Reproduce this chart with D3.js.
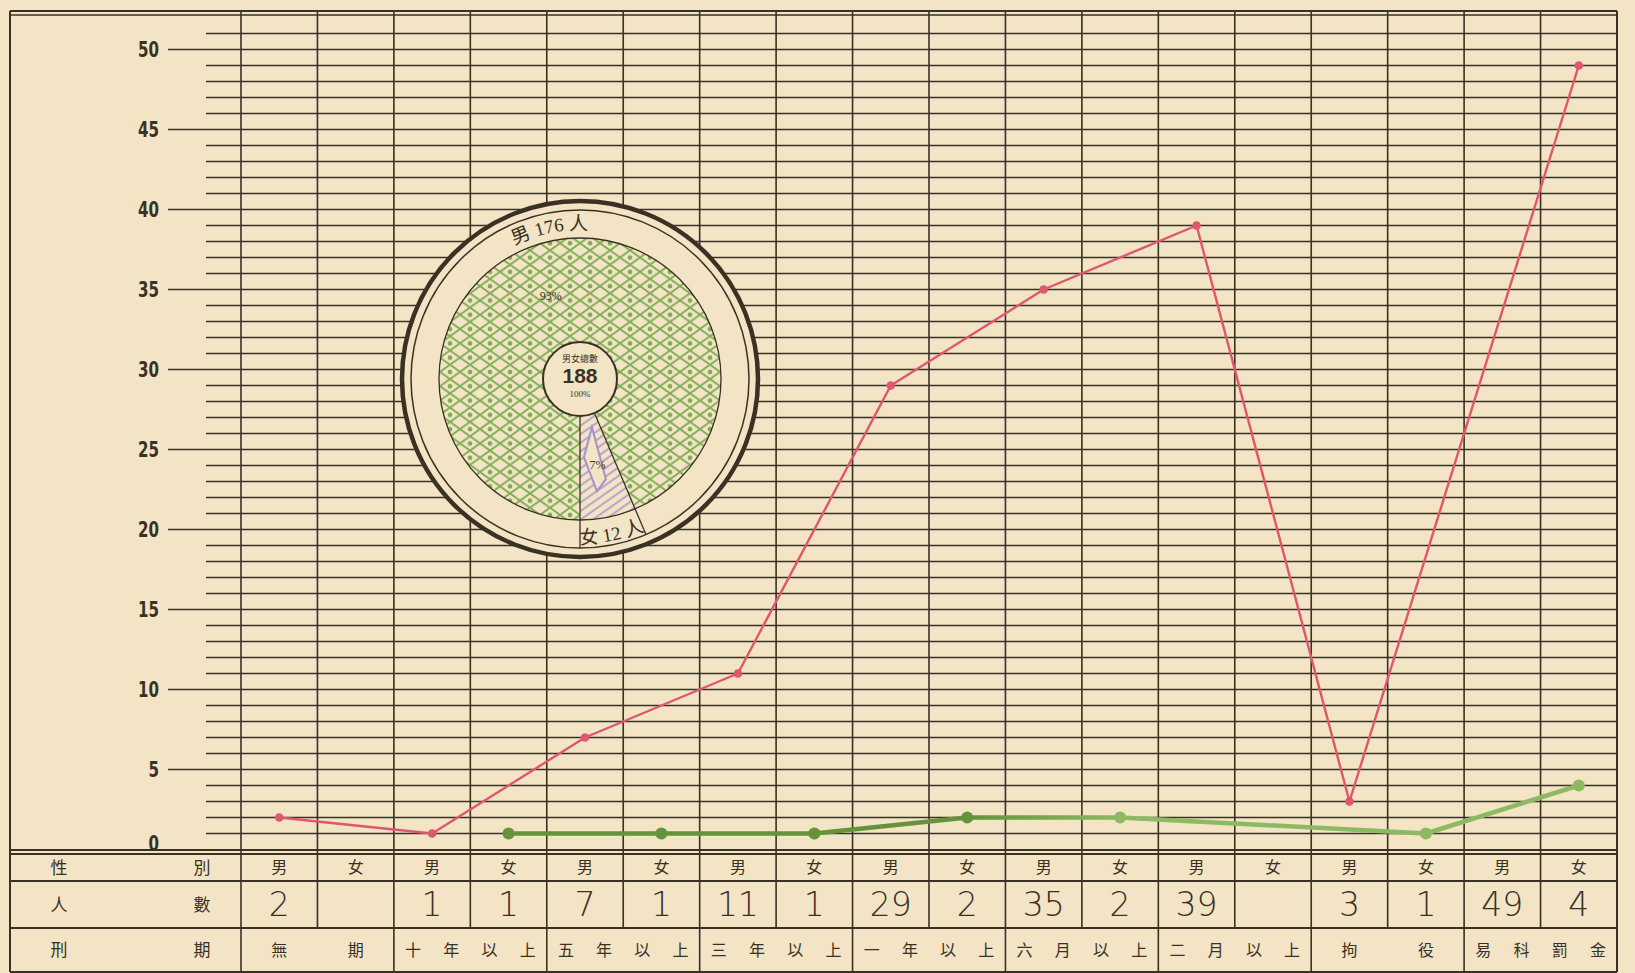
<!DOCTYPE html>
<html>
<head>
<meta charset="utf-8">
<script src="https://cdn.jsdelivr.net/npm/d3@7"></script>
<style>
  html, body { margin: 0; padding: 0; background: #f2e4c4; }
  svg { display: block; }
</style>
</head>
<body>
<svg id="chart" width="1635" height="973"></svg>
<script>
// ---- data -------------------------------------------------------------
const sentenceTerms = ["無期", "十年以上", "五年以上", "三年以上", "一年以上", "六月以上", "二月以上", "拘役", "易科罰金"];
const sexes = ["男", "女"];
const maleCounts = [2, 1, 7, 11, 29, 35, 39, 3, 49];
const femaleCounts = [null, 1, 1, 1, 2, 2, null, 1, 4];
// column (sex half of each term) in which each male point is plotted
const maleMarkSide = ["男", "男", "男", "男", "男", "男", "男", "男", "女"];
const yTickValues = [0, 5, 10, 15, 20, 25, 30, 35, 40, 45, 50];

const pieSexes = ["男", "女"];
const pieCounts = [176, 12];
const pieShares = ["93%", "7%"];
const grandTotal = 188;
const grandShare = "100%";
const centreCaption = "男女總數";

// ---- layout -----------------------------------------------------------
const ink = "#3a3125";
const paper = "#f2e4c4";
const frameLeft = 10, frameRight = 1617, frameTop = 12;
const plotBottom = 850;
const rowTops = [854, 881, 928, 972];
const cjk = "'Noto Sans CJK TC', 'Noto Sans CJK JP', sans-serif";

const svg = d3.select("#chart");
const defs = svg.append("defs");

const columns = sentenceTerms.flatMap(t => sexes.map(s => t + "|" + s));
const x = d3.scaleBand().domain(columns).range([241, frameRight]).padding(0);
const y = d3.scaleLinear().domain([0, 50]).range([849.5, 49.5]);
const colCentre = (term, sex) => x(term + "|" + sex) + x.bandwidth() / 2;

// paper
svg.append("rect").attr("width", 1635).attr("height", 973).attr("fill", paper);

// ---- horizontal rulings -------------------------------------------------
const grid = svg.append("g").attr("stroke", ink).attr("fill", "none");
d3.range(1, 52).forEach(v => {
  grid.append("line")
    .attr("x1", v % 5 === 0 ? 168 : 206).attr("x2", frameRight)
    .attr("y1", y(v)).attr("y2", y(v))
    .attr("stroke-width", 1.6);
});

// y tick labels (narrow bold figures)
svg.append("g").selectAll("text").data(yTickValues).join("text")
  .attr("x", 159).attr("y", d => y(d) - (d === 0 ? 6 : 0))
  .attr("dy", "0.36em")
  .attr("text-anchor", "end")
  .attr("font-family", "'DejaVu Sans', sans-serif")
  .attr("font-weight", "bold")
  .attr("font-size", 22)
  .attr("textLength", d => String(d).length * 10.5)
  .attr("lengthAdjust", "spacingAndGlyphs")
  .attr("fill", ink)
  .text(d => d);

// vertical rulings through plot and first two table rows
const colStarts = columns.map(c => x(c));
grid.selectAll("line.v").data(colStarts).join("line").attr("class", "v")
  .attr("x1", d => d).attr("x2", d => d)
  .attr("y1", frameTop).attr("y2", rowTops[2])
  .attr("stroke-width", 1.6);
// third table row: one cell per sentence term
grid.selectAll("line.t").data(sentenceTerms).join("line").attr("class", "t")
  .attr("x1", d => x(d + "|男")).attr("x2", d => x(d + "|男"))
  .attr("y1", rowTops[2]).attr("y2", rowTops[3])
  .attr("stroke-width", 1.6);

// frame
grid.append("line").attr("x1", frameLeft).attr("x2", frameRight).attr("y1", frameTop - 1).attr("y2", frameTop - 1).attr("stroke-width", 2);
grid.append("line").attr("x1", frameLeft).attr("x2", frameRight).attr("y1", frameTop + 3).attr("y2", frameTop + 3).attr("stroke-width", 1.4);
grid.append("line").attr("x1", frameLeft).attr("x2", frameLeft).attr("y1", frameTop - 1).attr("y2", rowTops[3]).attr("stroke-width", 2);
grid.append("line").attr("x1", frameRight).attr("x2", frameRight).attr("y1", frameTop - 1).attr("y2", rowTops[3]).attr("stroke-width", 2);
grid.append("line").attr("x1", frameLeft).attr("x2", frameRight).attr("y1", plotBottom).attr("y2", plotBottom).attr("stroke-width", 2);
rowTops.forEach(r => {
  grid.append("line").attr("x1", frameLeft).attr("x2", frameRight).attr("y1", r).attr("y2", r).attr("stroke-width", 2);
});

// ---- table text ---------------------------------------------------------
const table = svg.append("g").attr("fill", ink).attr("font-family", cjk).attr("text-anchor", "middle");
const rowMid = i => (rowTops[i] + rowTops[i + 1]) / 2;
[["性", "別"], ["人", "數"], ["刑", "期"]].forEach((pair, i) => {
  table.append("text").attr("x", 59).attr("y", rowMid(i)).attr("dy", "0.36em").attr("font-size", 17).text(pair[0]);
  table.append("text").attr("x", 202).attr("y", rowMid(i)).attr("dy", "0.36em").attr("font-size", 17).text(pair[1]);
});
// sex row
table.selectAll("text.sex").data(columns).join("text").attr("class", "sex")
  .attr("x", d => x(d) + x.bandwidth() / 2).attr("y", rowMid(0)).attr("dy", "0.36em")
  .attr("font-size", 16).text(d => d.split("|")[1]);
// counts row
const countCells = sentenceTerms.flatMap((t, i) => [
  { col: t + "|男", v: maleCounts[i] },
  { col: t + "|女", v: femaleCounts[i] }
]).filter(d => d.v != null);
table.selectAll("text.count").data(countCells).join("text").attr("class", "count")
  .attr("x", d => x(d.col) + x.bandwidth() / 2).attr("y", rowMid(1)).attr("dy", "0.36em")
  .attr("font-family", "'DejaVu Sans', sans-serif").attr("font-weight", 200)
  .attr("font-size", 33).text(d => d.v);
// term row: characters spread across the term's two columns
sentenceTerms.forEach(t => {
  const x0 = x(t + "|男"), w = 2 * x.bandwidth();
  const chars = Array.from(t);
  chars.forEach((ch, k) => {
    table.append("text")
      .attr("x", x0 + (k + 0.5) * w / chars.length)
      .attr("y", rowMid(2)).attr("dy", "0.36em")
      .attr("font-size", 16).text(ch);
  });
});

// ---- series lines -------------------------------------------------------
const malePts = sentenceTerms.map((t, i) => ({ x: colCentre(t, maleMarkSide[i]), v: maleCounts[i] }));
const femalePts = sentenceTerms.map((t, i) => ({ x: colCentre(t, "女"), v: femaleCounts[i] })).filter(d => d.v != null);
const line = d3.line().x(d => d.x).y(d => y(d.v));

// the green wash is deeper over the long-sentence half of the chart
const greenInk = defs.append("linearGradient").attr("id", "greenInk")
  .attr("gradientUnits", "userSpaceOnUse")
  .attr("x1", colCentre("一年以上", "女")).attr("x2", colCentre("六月以上", "女"))
  .attr("y1", 0).attr("y2", 0);
greenInk.append("stop").attr("offset", 0).attr("stop-color", "#64933b");
greenInk.append("stop").attr("offset", 1).attr("stop-color", "#8cb962");

svg.append("path").datum(femalePts).attr("d", line)
  .attr("fill", "none").attr("stroke", "url(#greenInk)").attr("stroke-width", 4.5)
  .attr("stroke-linejoin", "round");
svg.append("g").selectAll("circle").data(femalePts).join("circle")
  .attr("cx", d => d.x).attr("cy", d => y(d.v)).attr("r", 6).attr("fill", "url(#greenInk)");

svg.append("path").datum(malePts).attr("d", line)
  .attr("fill", "none").attr("stroke", "#e0566d").attr("stroke-width", 2.4)
  .attr("stroke-linejoin", "round");
svg.append("g").selectAll("circle").data(malePts).join("circle")
  .attr("cx", d => d.x).attr("cy", d => y(d.v)).attr("r", 4.3).attr("fill", "#e0566d");

// ---- circular breakdown of all convicts by sex --------------------------
const cx = 580, cy = 379;
const rHole = 37, rPie = 141, rInner = 169, rOuter = 178;

// net of eye-shaped meshes, a dot in every other row of meshes
const lattice = defs.append("pattern").attr("id", "lattice")
  .attr("patternUnits", "userSpaceOnUse").attr("width", 20).attr("height", 14.3)
  .attr("x", cx).attr("y", cy);
lattice.append("path")
  .attr("d", "M0,0 L20,14.3 M20,0 L0,14.3 M-20,0 L0,14.3 M20,0 L40,14.3 M0,0 L-20,14.3 M40,0 L20,14.3")
  .attr("stroke", "#7fac55").attr("stroke-width", 1.8).attr("fill", "none");
[[10, 0], [10, 14.3]].forEach(([a, b]) => {
  lattice.append("circle").attr("cx", a).attr("cy", b).attr("r", 2.4).attr("fill", "#7fac55");
});

const stripes = defs.append("pattern").attr("id", "stripes")
  .attr("patternUnits", "userSpaceOnUse").attr("width", 7).attr("height", 7)
  .attr("patternTransform", "rotate(-35)");
stripes.append("line").attr("x1", 0).attr("x2", 7).attr("y1", 3.5).attr("y2", 3.5)
  .attr("stroke", "#a692cc").attr("stroke-width", 1.6);

const ring = svg.append("g").attr("transform", `translate(${cx},${cy})`);
ring.append("circle").attr("r", rOuter).attr("fill", paper).attr("stroke", ink).attr("stroke-width", 4.5);
ring.append("circle").attr("r", rInner).attr("fill", "none").attr("stroke", ink).attr("stroke-width", 1.5);

const pie = d3.pie().sort(null).startAngle(Math.PI).endAngle(3 * Math.PI);
const arcs = pie(pieCounts);
const arc = d3.arc().innerRadius(rHole).outerRadius(rPie);
ring.selectAll("path.slice").data(arcs).join("path").attr("class", "slice")
  .attr("d", arc)
  .attr("fill", (d, i) => i === 0 ? "url(#lattice)" : "url(#stripes)");
ring.append("circle").attr("r", rPie).attr("fill", "none").attr("stroke", ink).attr("stroke-width", 1.3);
ring.append("circle").attr("r", rHole).attr("fill", paper).attr("stroke", ink).attr("stroke-width", 2);

// slice boundaries run out to the inner ring
arcs.forEach(d => {
  const a = d.startAngle;
  ring.append("line")
    .attr("x1", rHole * Math.sin(a)).attr("y1", -rHole * Math.cos(a))
    .attr("x2", rInner * Math.sin(a)).attr("y2", -rInner * Math.cos(a))
    .attr("stroke", ink).attr("stroke-width", 1.3);
});

// label plate inside the small slice
const fem = arcs[1];
const fa = (fem.startAngle + fem.endAngle) / 2;
const fc = [90 * Math.sin(fa), -90 * Math.cos(fa)];
ring.append("path")
  .attr("d", `M${fc[0] - 6},${fc[1] - 40} L${fc[0] + 8},${fc[1] + 12} L${fc[0] - 1},${fc[1] + 24} L${fc[0] - 14},${fc[1] - 10} Z`)
  .attr("fill", paper).attr("stroke", "#a692cc").attr("stroke-width", 2);

// slice shares
arcs.forEach((d, i) => {
  const a = (d.startAngle + d.endAngle) / 2 - (i === 0 ? 0.14 : 0);
  ring.append("text")
    .attr("x", 88 * Math.sin(a)).attr("y", -88 * Math.cos(a)).attr("dy", "0.35em")
    .attr("text-anchor", "middle")
    .attr("font-family", "'Liberation Serif', serif").attr("font-size", 12).attr("fill", ink)
    .text(pieShares[i]);
});

// centre total
ring.append("text").attr("y", -20).attr("text-anchor", "middle").attr("dy", "0.35em")
  .attr("font-family", cjk).attr("font-size", 9).attr("fill", ink).text(centreCaption);
ring.append("text").attr("y", -3).attr("text-anchor", "middle").attr("dy", "0.35em")
  .attr("font-family", "'Liberation Sans', sans-serif").attr("font-weight", "bold")
  .attr("font-size", 21).attr("fill", ink).text(grandTotal);
ring.append("text").attr("y", 15).attr("text-anchor", "middle").attr("dy", "0.35em")
  .attr("font-family", "'Liberation Serif', serif").attr("font-size", 9).attr("fill", ink).text(grandShare);

// curved sex labels in the band between pie and ring
const rTopText = 149, rBotText = 165;
defs.append("path").attr("id", "arcTop")
  .attr("d", `M${cx - rTopText},${cy} A${rTopText},${rTopText} 0 0 1 ${cx + rTopText},${cy}`);
defs.append("path").attr("id", "arcBottom")
  .attr("d", `M${cx - rBotText},${cy} A${rBotText},${rBotText} 0 0 0 ${cx + rBotText},${cy}`);

const deg = a => a * 180 / Math.PI;
arcs.forEach((d, i) => {
  const mid = deg((d.startAngle + d.endAngle) / 2) % 360;
  const onTop = i === 0;
  const offset = onTop ? ((mid > 180 ? mid - 360 : mid) + 90) / 180 : (270 - mid) / 180;
  svg.append("text").attr("fill", ink).attr("font-size", 19)
    .attr("font-family", "'Liberation Serif', 'Noto Sans CJK TC', serif")
    .append("textPath").attr("href", onTop ? "#arcTop" : "#arcBottom")
    .attr("startOffset", (offset * 100).toFixed(1) + "%").attr("text-anchor", "middle")
    .text(`${pieSexes[i]} ${pieCounts[i]} 人`);
});
</script>
</body>
</html>
